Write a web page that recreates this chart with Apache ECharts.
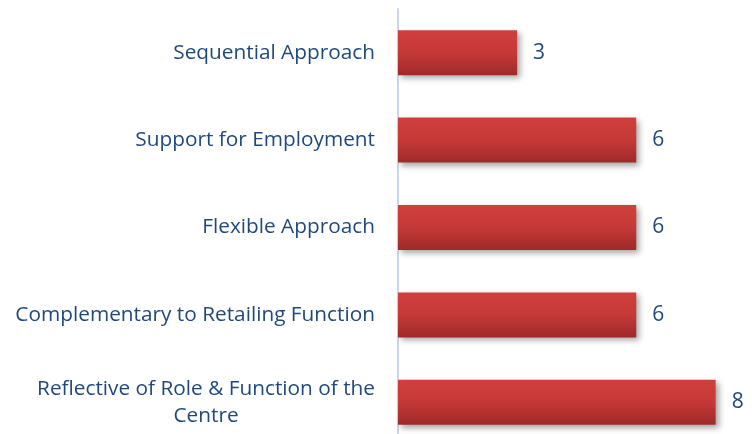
<!DOCTYPE html>
<html>
<head>
<meta charset="utf-8">
<script src="https://cdn.jsdelivr.net/npm/echarts@6/dist/echarts.min.js"></script>
<style>
  html, body { margin: 0; padding: 0; background: #fff; }
  #chart { width: 752px; height: 434px; }
</style>
</head>
<body>
<div id="chart"></div>
<script>
var categories = [
  'Sequential Approach',
  'Support for Employment',
  'Flexible Approach',
  'Complementary to Retailing Function',
  'Reflective of Role & Function of the\nCentre'
];
var values = [3, 6, 6, 6, 8];

var chart = echarts.init(document.getElementById('chart'));

chart.setOption({
  animation: false,
  grid: { left: 398, top: 9, width: 337.5, height: 437, outerBoundsMode: 'none', containLabel: false },
  xAxis: {
    type: 'value',
    min: 0,
    max: 8.5,
    show: false
  },
  yAxis: {
    type: 'category',
    data: categories,
    inverse: true,
    axisLine: { show: true, lineStyle: { color: '#c9d7ec', width: 2 } },
    axisTick: { show: false },
    axisLabel: {
      margin: 23,
      fontFamily: 'Open Sans',
      formatter: function (v) {
        return v.split('\n').map(function (s) { return '{a|' + s + '}'; }).join('\n');
      },
      rich: {
        a: { align: 'center', color: '#1f497d', fontSize: 20.8, fontFamily: 'Open Sans', lineHeight: 27 }
      }
    }
  },
  series: [{
    type: 'bar',
    data: values,
    barWidth: 45,
    itemStyle: {
      color: new echarts.graphic.LinearGradient(0, 0, 0, 1, [
        { offset: 0, color: '#d13f3d' },
        { offset: 0.5, color: '#c43937' },
        { offset: 1, color: '#9e2a29' }
      ]),
      shadowColor: 'rgba(0,0,0,0.35)',
      shadowBlur: 6,
      shadowOffsetX: 3,
      shadowOffsetY: 3
    },
    label: {
      show: true,
      position: 'right',
      distance: 16,
      color: '#1f497d',
      fontSize: 21,
      fontFamily: 'Open Sans'
    }
  }]
});
</script>
</body>
</html>
